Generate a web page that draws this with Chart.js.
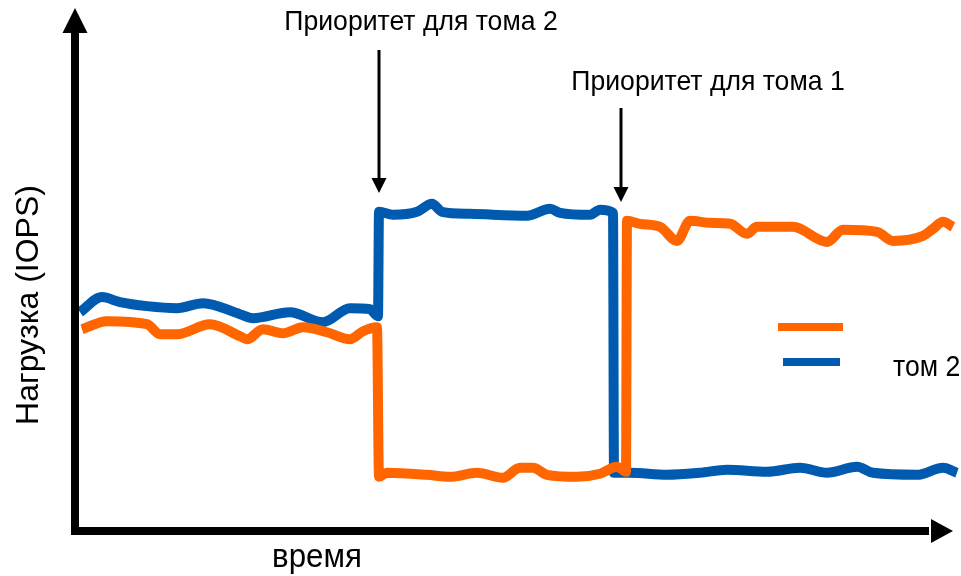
<!DOCTYPE html>
<html>
<head>
<meta charset="utf-8">
<script src="https://cdn.jsdelivr.net/npm/chart.js@4.4.1/dist/chart.umd.min.js"></script>
<style>
  html, body { margin: 0; padding: 0; background: #fff; }
  canvas { display: block; }
</style>
</head>
<body>
<canvas id="myChart" width="961" height="576"></canvas>
<script>
/* data: time (x) and load in IOPS (y) */
const vol1Time = [0.7, 3.2, 7.2, 8.5, 10.2, 13.5, 16.5, 17.2, 18.8, 20.8, 22.8, 25.2, 27.5, 28.8, 30.2,
  30.4, 31.2, 35.2, 37.5, 40.2, 42.8, 44.5, 45.8, 47.2, 50.2, 52.5, 54.2, 55.1,
  55.2, 56.5, 58.5, 60.2, 61.5, 63.5, 65.5, 67.2, 68.2, 71.8, 75.2, 76.8, 80.2, 81.8, 84.8, 85.8, 86.8, 87.8];
const vol1Load = [39.4, 41, 40.4, 38.4, 38.4, 40.4, 38, 37.4, 39.4, 38.6, 39.8, 38.8, 37.4, 39, 39.8,
  10, 10.8, 10.4, 10, 10.8, 9.8, 11.8, 11.8, 10.4, 10, 10.6, 12, 11,
  61, 60.4, 59.8, 57, 61, 60.6, 60.4, 58.4, 59.8, 59.8, 56.8, 59.2, 58.8, 57, 58, 59.4, 60.8, 59.8];

const vol2Time = [0.5, 2.7, 4.5, 7.2, 10.2, 12.8, 16.5, 17.8, 21.5, 24.8, 27.5, 29.5, 30.3,
  30.4, 31.8, 34.2, 35.7, 36.7, 39.5, 45.2, 47.5, 48.5, 51.5, 52.5, 53.8,
  53.9, 55.5, 59.2, 62.5, 65.2, 69.2, 72.5, 75.2, 78.2, 79.8, 84.2, 86.8, 88.2];
const vol2Load = [42.8, 45.8, 44.8, 44, 43.6, 44.6, 42.4, 41.6, 42.8, 40.8, 43.6, 43.4, 42,
  62.8, 62.2, 62.8, 64.4, 62.8, 62.4, 62, 63.4, 62.6, 62.2, 63.2, 62.6,
  10.8, 10.8, 10.4, 10.8, 11.4, 11, 11.8, 10.8, 12, 10.8, 10.4, 11.8, 10.8];

const seriesNames = ['', 'том 2'];
const seriesColors = ['#ff6600', '#005bb0'];

const switchTimes = [30.4, 54.3];
const switchLabels = ['Приоритет для тома 2', 'Приоритет для тома 1'];

const xTitle = 'время';
const yTitle = 'Нагрузка (IOPS)';

function toPoints(xs, ys) {
  return xs.map((x, i) => ({ x: x, y: ys[i] }));
}

/* text with a slightly narrow look, like the picture */
function drawText(ctx, str, x, y, size, align, sx) {
  ctx.save();
  ctx.translate(x, y);
  ctx.scale(sx, 1);
  ctx.font = size + 'px "Liberation Sans", Arial, sans-serif';
  ctx.fillStyle = '#000';
  ctx.textAlign = align;
  ctx.textBaseline = 'middle';
  ctx.fillText(str, 0, 0);
  ctx.restore();
}

function arrowDown(ctx, x, y1, y2) {
  ctx.save();
  ctx.strokeStyle = '#000';
  ctx.fillStyle = '#000';
  ctx.lineWidth = 3;
  ctx.beginPath();
  ctx.moveTo(x, y1);
  ctx.lineTo(x, y2 - 12);
  ctx.stroke();
  ctx.beginPath();
  ctx.moveTo(x - 7.5, y2 - 15);
  ctx.lineTo(x + 7.5, y2 - 15);
  ctx.lineTo(x, y2);
  ctx.closePath();
  ctx.fill();
  ctx.restore();
}

/* axes with arrows, titles, switch marks and legend */
const decorPlugin = {
  id: 'decor',
  afterDatasetsDraw(chart) {
    const ctx = chart.ctx;
    const area = chart.chartArea;
    const xs = chart.scales.x;

    ctx.save();
    ctx.fillStyle = '#000';
    // y axis
    ctx.fillRect(area.left - 4, 30, 8, area.bottom - 30 + 4);
    ctx.beginPath();
    ctx.moveTo(area.left - 12.5, 33);
    ctx.lineTo(area.left + 12.5, 33);
    ctx.lineTo(area.left, 8);
    ctx.closePath();
    ctx.fill();
    // x axis
    ctx.fillRect(area.left - 4, area.bottom - 4, area.right - 26 - area.left + 4, 8);
    ctx.beginPath();
    ctx.moveTo(area.right - 24, area.bottom - 12);
    ctx.lineTo(area.right - 24, area.bottom + 12);
    ctx.lineTo(area.right - 2, area.bottom);
    ctx.closePath();
    ctx.fill();
    ctx.restore();

    // axis titles
    drawText(ctx, xTitle, 317, 558, 34, 'center', 0.92);
    ctx.save();
    ctx.translate(29, 305);
    ctx.rotate(-Math.PI / 2);
    drawText(ctx, yTitle, 0, 0, 32, 'center', 1);
    ctx.restore();

    // priority switches
    const labelX = [421, 708];
    const labelY = [22, 82];
    const arrowTop = [50, 108];
    const arrowTip = [193, 202];
    switchTimes.forEach((t, i) => {
      const px = xs.getPixelForValue(t) + (i === 1 ? 3 : 0);
      arrowDown(ctx, px, arrowTop[i], arrowTip[i]);
      drawText(ctx, switchLabels[i], labelX[i], labelY[i], 28, 'center', 0.95);
    });

    // legend
    const legX = [778, 783];
    const legW = [65, 57];
    const legY = [327, 362];
    chart.data.datasets.forEach((ds, i) => {
      ctx.save();
      ctx.fillStyle = ds.borderColor;
      ctx.fillRect(legX[i], legY[i] - 4, legW[i], 8);
      ctx.restore();
      if (ds.label) drawText(ctx, ds.label, 893, legY[i] + 6, 29, 'left', 0.92);
    });
  }
};

let ctx = document.querySelector('#myChart').getContext('2d');
let myChart = new Chart(ctx, {
  type: 'line',
  data: {
    datasets: [
      {
        label: seriesNames[0],
        data: toPoints(vol1Time, vol1Load),
        borderColor: seriesColors[0],
        borderWidth: 10,
        pointRadius: 0,
        cubicInterpolationMode: 'monotone',
        borderJoinStyle: 'round',
        clip: false,
      },
      {
        label: seriesNames[1],
        data: toPoints(vol2Time, vol2Load),
        borderColor: seriesColors[1],
        borderWidth: 10,
        pointRadius: 0,
        cubicInterpolationMode: 'monotone',
        borderJoinStyle: 'round',
        clip: false,
      },
    ]
  },
  options: {
    responsive: false,
    animation: false,
    layout: { padding: { left: 75, right: 6, top: 10, bottom: 45 } },
    scales: {
      x: { type: 'linear', min: 0, max: 88, display: false },
      y: { min: -0.8, max: 103, display: false }
    },
    plugins: {
      legend: { display: false },
      tooltip: { enabled: false },
    },
  },
  plugins: [decorPlugin]
});
</script>
</body>
</html>
